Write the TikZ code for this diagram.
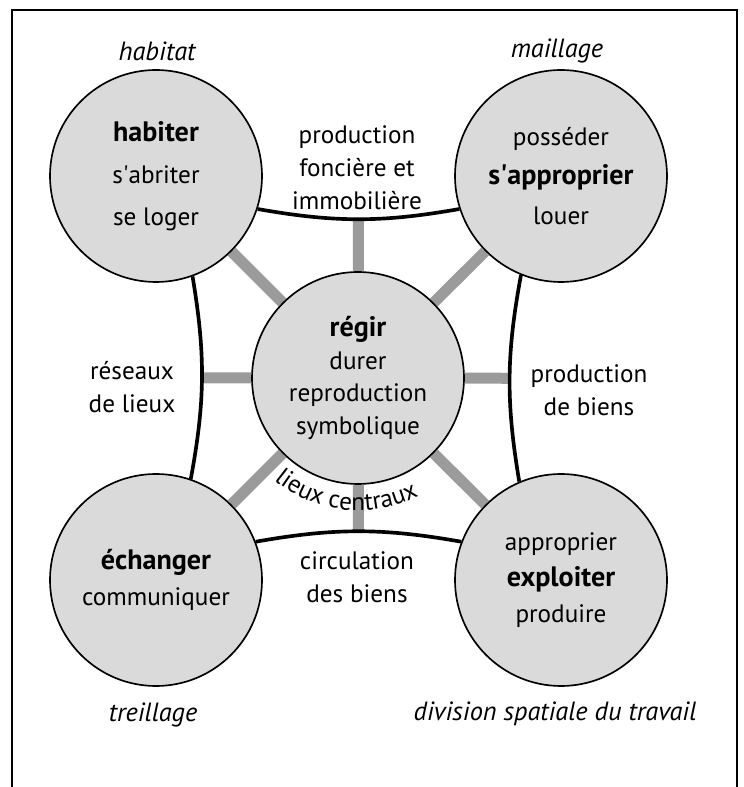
\documentclass[tikz,border=0pt]{standalone}
\usepackage{fontspec}
\setmainfont{PT Sans}
\usetikzlibrary{backgrounds,decorations.text}
\definecolor{discgray}{RGB}{218,218,218}
\definecolor{spokegray}{RGB}{155,155,155}
\newcommand\bodyfont{\fontsize{21.5}{28}\selectfont}
\newcommand\keyword[1]{{\fontsize{24}{28}\selectfont\bfseries #1}}
\tikzset{
  disc/.style={circle,draw=black,line width=0.05cm,fill=discgray,
               minimum size=6.36cm,inner sep=0pt,align=center,font=\bodyfont},
  note/.style={align=center,font=\bodyfont},
  tag/.style={font=\fontsize{22.5}{28}\selectfont\itshape},
  rim/.style={line width=0.11cm},
  spoke/.style={draw=spokegray,line width=0.33cm},
  frame/.style={line width=0.06cm}
}
\begin{document}
\begin{tikzpicture}
  \useasboundingbox (0,0) rectangle (22.32,23.61);
  \draw[frame] (0.36,-0.50) -- (0.36,23.31) -- (22.11,23.31) -- (22.11,-0.50);

  % the five activities
  \node[disc] (regir)    at (10.74,12.27) {\keyword{régir}\\durer\\reproduction\\symbolique};
  \node[disc] (habiter)  at ( 4.68,18.33) {\keyword{habiter}\\[8pt]s\textquotesingle abriter\\[8pt]se loger};
  \node[disc] (approp)   at (16.83,18.33) {posséder\\[6pt]\keyword{s\textquotesingle approprier}\\[6pt]louer};
  \node[disc] (echanger) at ( 4.68, 6.21) {\keyword{échanger}\\[3pt]communiquer};
  \node[disc] (exploit)  at (16.83, 6.21) {approprier\\[3pt]\keyword{exploiter}\\[3pt]produire};

  \node[note] (prodfonc) at (10.71,18.57) {production\\foncière et\\immobilière};
  \node[note] (reseaux)  at ( 3.96,12.00) {réseaux\\de lieux};
  \node[note] (prodbien) at (17.67,11.91) {production\\de biens};
  \node[note] (circul)   at (10.71, 6.30) {circulation\\des biens};

  \node[tag]  (habitat)  at ( 4.71,22.08) {habitat};
  \node[tag]  (maillage) at (16.71,22.08) {maillage};
  \node[tag]  (treill)   at ( 4.59, 2.16) {treillage};
  \node[tag]  (division) at (16.65, 2.19) {division spatiale du travail};

  % black rims between the corners
  \draw[rim] (habiter.-18) to[bend right=10] coordinate[pos=.5] (rimtop)   (approp.198);
  \draw[rim] (echanger.21) to[bend left=10]  coordinate[pos=.5] (rimbot)   (exploit.159);
  \draw[rim] (habiter.290) to[bend left=10]  coordinate[pos=.5] (rimleft)  (echanger.71);
  \draw[rim] (approp.248)  to[bend right=10] coordinate[pos=.5] (rimright) (exploit.113);

  % grey spokes from the centre
  \begin{scope}[on background layer]
    \foreach \tip in {habiter,approp,echanger,exploit,rimtop,rimbot,rimleft,rimright}
      \draw[spoke] (regir) -- (\tip);
  \end{scope}

  \path[decorate,decoration={text along path,text align=center,
        text={|\bodyfont|lieux centraux}}]
    ([shift={(224:3.97)}]regir.center) arc[start angle=224,end angle=304,radius=3.97];
\end{tikzpicture}
\end{document}
